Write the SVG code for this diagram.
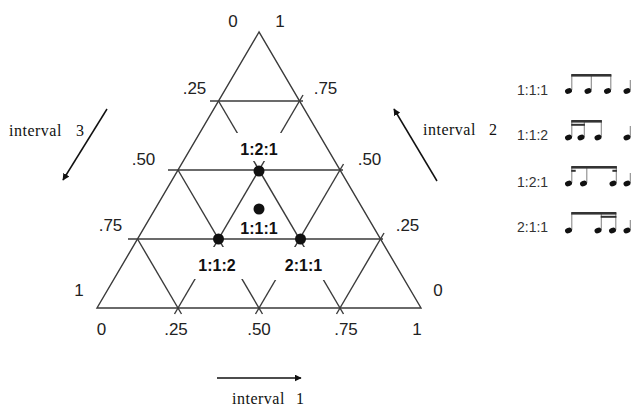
<svg xmlns="http://www.w3.org/2000/svg" width="633" height="407" viewBox="0 0 633 407">
  <defs>
    <marker id="arrowhead" viewBox="0 0 10 10" refX="9" refY="5" markerWidth="7" markerHeight="7" markerUnits="userSpaceOnUse" orient="auto">
      <path d="M0,0 L10,5 L0,10 z" fill="#111"/>
    </marker>
    <ellipse id="head" rx="3.6" ry="2.6" transform="rotate(-22)" fill="#111"/>
  </defs>
  <style>
    .edge { fill: none; stroke: #3a3a3a; stroke-width: 1.4; }
    .grid { stroke: #3a3a3a; stroke-width: 1.4; }
    .tick { font-family: "Liberation Sans", Arial, sans-serif; font-size: 17px; fill: #222; text-anchor: middle; }
    .ratio { font-family: "Liberation Sans", Arial, sans-serif; font-size: 16px; font-weight: bold; fill: #111; text-anchor: middle; }
    .mask { fill: #fff; }
    .dot { fill: #111; }
    .axis { font-family: "Liberation Serif", "Times New Roman", serif; font-size: 16px; fill: #111; letter-spacing: 0.5px; }
    .arrow { stroke: #111; stroke-width: 1.5; fill: none; marker-end: url(#arrowhead); }
    .legend { font-family: "Liberation Sans", Arial, sans-serif; font-size: 14px; fill: #333; }
    .stem { stroke: #8a8a8a; stroke-width: 1.1; }
    .beam { fill: #333; }
  </style>

  <!-- ternary frame and quarter grid -->
  <g id="ternary-grid">
    <polygon class="edge" points="259,32 97,308 421,308"/>
    <line class="grid" x1="210" y1="101" x2="303" y2="101"/>
    <line class="grid" x1="168" y1="170" x2="343" y2="170"/>
    <line class="grid" x1="128" y1="239" x2="383" y2="239"/>
    <line class="grid" x1="218.5" y1="101" x2="343.5" y2="314"/>
    <line class="grid" x1="178" y1="170" x2="262.5" y2="314"/>
    <line class="grid" x1="137.5" y1="239" x2="181.5" y2="314"/>
    <line class="grid" x1="303" y1="95" x2="174.5" y2="314"/>
    <line class="grid" x1="343.5" y1="164" x2="255.5" y2="314"/>
    <line class="grid" x1="384" y1="233" x2="336.5" y2="314"/>
  </g>

  <!-- scale values -->
  <g id="scale-labels">
    <text class="tick" x="233" y="27">0</text>
    <text class="tick" x="280" y="27">1</text>
    <text class="tick" x="194.5" y="94">.25</text>
    <text class="tick" x="325.5" y="94">.75</text>
    <text class="tick" x="143.5" y="165">.50</text>
    <text class="tick" x="369.5" y="165">.50</text>
    <text class="tick" x="110.5" y="231">.75</text>
    <text class="tick" x="407.5" y="231">.25</text>
    <text class="tick" x="79" y="296">1</text>
    <text class="tick" x="438" y="296">0</text>
    <text class="tick" x="101.5" y="335">0</text>
    <text class="tick" x="176" y="335">.25</text>
    <text class="tick" x="259" y="335">.50</text>
    <text class="tick" x="346" y="335">.75</text>
    <text class="tick" x="417" y="335">1</text>
  </g>

  <!-- rhythm points -->
  <g id="point-121">
    <rect class="mask" x="232" y="133" width="54" height="28"/>
    <text class="ratio" x="259" y="155">1:2:1</text>
    <circle class="dot" cx="259" cy="171" r="5.5"/>
  </g>
  <g id="point-111">
    <circle class="dot" cx="259" cy="209" r="5.5"/>
    <text class="ratio" x="259" y="234">1:1:1</text>
  </g>
  <g id="point-112">
    <rect class="mask" x="192" y="247" width="54" height="32"/>
    <text class="ratio" x="217" y="271">1:1:2</text>
    <circle class="dot" cx="218.5" cy="239" r="5.5"/>
  </g>
  <g id="point-211">
    <rect class="mask" x="271" y="247" width="57" height="33"/>
    <text class="ratio" x="303.5" y="271">2:1:1</text>
    <circle class="dot" cx="300.5" cy="239" r="5.5"/>
  </g>

  <!-- interval direction arrows -->
  <g id="connectors">
    <line class="arrow" x1="107" y1="109" x2="63" y2="180"/>
    <line class="arrow" x1="437" y1="181" x2="394" y2="109"/>
    <line class="arrow" x1="217" y1="378" x2="301" y2="378"/>
  </g>
  <g id="interval-labels">
    <text class="axis" x="9" y="136">interval</text>
    <text class="axis" x="76" y="136">3</text>
    <text class="axis" x="423" y="135">interval</text>
    <text class="axis" x="489" y="135">2</text>
    <text class="axis" x="232" y="404">interval</text>
    <text class="axis" x="296" y="404">1</text>
  </g>

  <!-- rhythm legend -->
  <g id="legend-111">
    <text class="legend" x="517" y="95">1:1:1</text>
    <line class="stem" x1="571.8" y1="75" x2="571.8" y2="90"/>
    <line class="stem" x1="591.3" y1="75" x2="591.3" y2="90"/>
    <line class="stem" x1="610.8" y1="75" x2="610.8" y2="90"/>
    <line class="stem" x1="630.3" y1="80" x2="630.3" y2="90"/>
    <rect class="beam" x="571.2" y="74" width="40.2" height="2.6"/>
    <use href="#head" transform="translate(568.5,91)"/>
    <use href="#head" transform="translate(588,91)"/>
    <use href="#head" transform="translate(607.5,91)"/>
    <use href="#head" transform="translate(627,91)"/>
  </g>
  <g id="legend-112">
    <text class="legend" x="517" y="140">1:1:2</text>
    <line class="stem" x1="571.8" y1="121" x2="571.8" y2="137"/>
    <line class="stem" x1="584.3" y1="121" x2="584.3" y2="137"/>
    <line class="stem" x1="601.3" y1="121" x2="601.3" y2="137"/>
    <line class="stem" x1="630.3" y1="126" x2="630.3" y2="137"/>
    <rect class="beam" x="571.2" y="120" width="30.7" height="2.6"/>
    <rect class="beam" x="571.2" y="123.8" width="13.7" height="2"/>
    <use href="#head" transform="translate(568.5,137.5)"/>
    <use href="#head" transform="translate(581,137.5)"/>
    <use href="#head" transform="translate(598,137.5)"/>
    <use href="#head" transform="translate(627,137.5)"/>
  </g>
  <g id="legend-121">
    <text class="legend" x="517" y="187">1:2:1</text>
    <line class="stem" x1="571.8" y1="167" x2="571.8" y2="183"/>
    <line class="stem" x1="586.8" y1="167" x2="586.8" y2="183"/>
    <line class="stem" x1="616.3" y1="167" x2="616.3" y2="183"/>
    <line class="stem" x1="630.3" y1="173" x2="630.3" y2="183"/>
    <rect class="beam" x="571.2" y="166" width="45.7" height="2.6"/>
    <rect class="beam" x="571.2" y="169.8" width="4.5" height="2"/>
    <rect class="beam" x="612.4" y="169.8" width="4.5" height="2"/>
    <use href="#head" transform="translate(568.5,183.5)"/>
    <use href="#head" transform="translate(583.5,183.5)"/>
    <use href="#head" transform="translate(613,183.5)"/>
    <use href="#head" transform="translate(627,183.5)"/>
  </g>
  <g id="legend-211">
    <text class="legend" x="517" y="232">2:1:1</text>
    <line class="stem" x1="571.8" y1="213" x2="571.8" y2="230"/>
    <line class="stem" x1="601.3" y1="213" x2="601.3" y2="230"/>
    <line class="stem" x1="615.8" y1="213" x2="615.8" y2="230"/>
    <line class="stem" x1="630.3" y1="220" x2="630.3" y2="230"/>
    <rect class="beam" x="571.2" y="212" width="45.2" height="2.6"/>
    <rect class="beam" x="600.7" y="215.8" width="15.7" height="2"/>
    <use href="#head" transform="translate(568.5,230.5)"/>
    <use href="#head" transform="translate(598,230.5)"/>
    <use href="#head" transform="translate(612.5,230.5)"/>
    <use href="#head" transform="translate(627,230.5)"/>
  </g>
</svg>
